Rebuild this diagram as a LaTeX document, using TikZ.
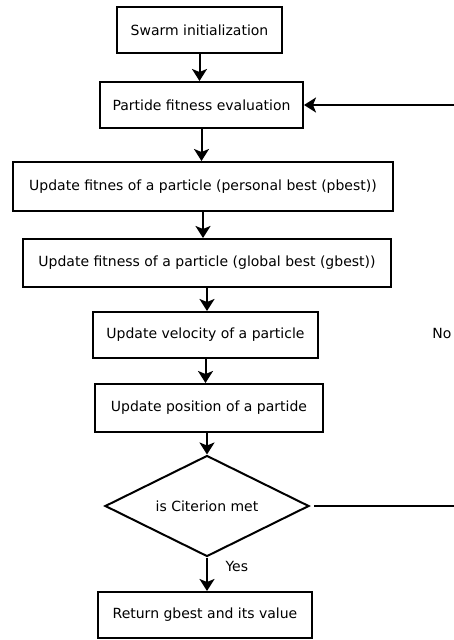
\documentclass[tikz,border=0pt]{standalone}
\usepackage{fontspec}
\setmainfont{DejaVu Sans}
\usetikzlibrary{shapes.geometric,arrows.meta}
\begin{document}
\begin{tikzpicture}[x=1pt,y=-1pt,
  box/.style={draw,line width=2pt,rectangle,inner sep=0pt,align=center,font=\fontsize{14}{16}\selectfont},
  dec/.style={draw,line width=2pt,diamond,shape aspect=2,inner sep=0pt,font=\fontsize{14}{16}\selectfont},
  arr/.style={line width=2pt,-{Stealth[length=12pt,width=15pt,inset=3pt]}},
  lbl/.style={font=\fontsize{14}{16}\selectfont}]
\useasboundingbox (0,0) rectangle (454,640);
\node[box,minimum width=165pt,minimum height=46pt] (b1) at (199.5,30) {Swarm initialization};
\node[box,minimum width=203pt,minimum height=46pt] (b2) at (201.5,105) {Partide fitness evaluation};
\node[box,minimum width=380pt,minimum height=49pt] (b3) at (203,186.5) {Update fitnes of a particle (personal best (pbest))};
\node[box,minimum width=368pt,minimum height=48pt] (b4) at (207,263) {Update fitness of a particle (global best (gbest))};
\node[box,minimum width=225pt,minimum height=46pt] (b5) at (205.5,335) {Update velocity of a particle};
\node[box,minimum width=228pt,minimum height=48pt] (b6) at (209,408) {Update position of a partide};
\node[dec,minimum width=204pt,minimum height=101pt] (d) at (207,506) {is Citerion met};
\node[box,minimum width=214pt,minimum height=46pt] (b7) at (205,615) {Return gbest and its value};
\node[lbl] (no) at (442,333) {No};
\node[lbl,anchor=west] (yes) at (222,566) {Yes};
\coordinate (r1) at (455,105);
\coordinate (r2) at (455,506);
\draw[arr] (b1.south) -- (b1.south |- b2.north);
\draw[arr] (b2.south) -- (b2.south |- b3.north);
\draw[arr] (b3.south) -- (b3.south |- b4.north);
\draw[arr] (b4.south) -- (b4.south |- b5.north);
\draw[arr] (b5.south) -- (b5.south |- b6.north);
\draw[arr] (b6.south -| d.north) -- (d.north);
\draw[arr] (d.south) -- (d.south |- b7.north);
\draw[arr] (r1) -- (b2.east);
\draw[line width=2pt,shorten <=4pt] (d.east) -- (r2);
\end{tikzpicture}
\end{document}
